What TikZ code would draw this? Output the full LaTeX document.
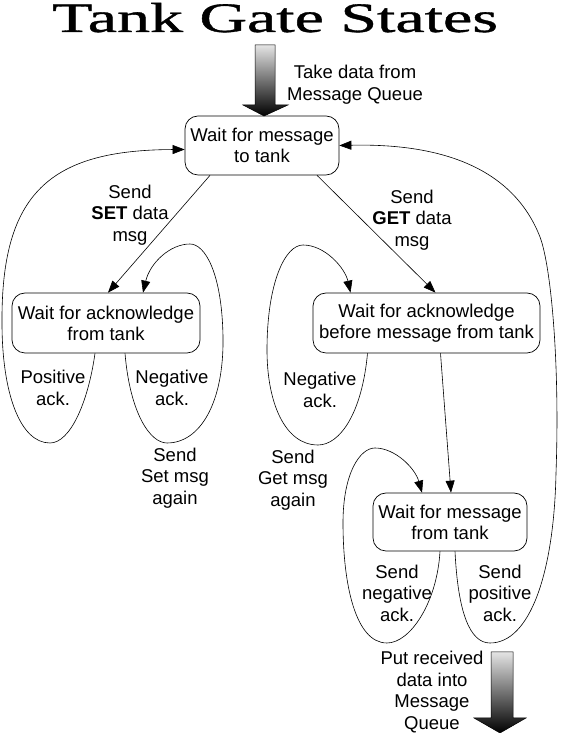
\documentclass[tikz,border=0pt]{standalone}
\usepackage{fontspec}
\setmainfont{Liberation Sans}
\newfontfamily\titlefont[FakeBold=0.8]{Liberation Serif}
\usepackage{tikz}
\usetikzlibrary{arrows.meta}
\definecolor{queuegray}{RGB}{228,228,228}

\begin{document}
\begin{tikzpicture}[
    x=1pt, y=1pt,
    state/.style={rectangle, draw, rounded corners=13pt, inner sep=1pt, align=center, font=\fontsize{18.5}{21}\selectfont, line width=0.7pt},
    lbl/.style={align=center, inner sep=0pt, font=\fontsize{18.5}{21.5}\selectfont},
    arrow/.style={-{Triangle[length=12pt,width=9pt]}, line width=0.6pt},
    queue/.style={top color=queuegray, bottom color=black, draw=black, line width=0.5pt},
]
    \useasboundingbox (0,0) rectangle (562,733);

    \node[anchor=base, xscale=1.57, font=\titlefont\fontsize{42}{42}\selectfont] (title) at (275,701) {Tank Gate States};

    \node[state, minimum width=154pt, minimum height=59pt] (msgwait) at (262,587.5) {Wait for message\\to tank};
    \node[state, minimum width=188pt, minimum height=60pt] (setack) at (106,410) {Wait for acknowledge\\from tank};
    \node[state, minimum width=227pt, minimum height=60pt] (getack) at (426.5,410) {Wait for acknowledge\\before message from tank};
    \node[state, minimum width=154pt, minimum height=58pt] (tankwait) at (450,211) {Wait for message\\from tank};

    \node[lbl] (takedata) at (355,648.5) {Take data from\\Message Queue};
    \node[lbl] (sendset) at (130,518) {Send\\\textbf{SET} data\\msg};
    \node[lbl] (sendget) at (412,513) {Send\\\textbf{GET} data\\msg};
    \node[lbl] (posack) at (53,345) {Positive\\ack.};
    \node[lbl] (negset) at (172,345) {Negative\\ack.};
    \node[lbl] (setagain) at (175,255) {Send\\Set msg\\again};
    \node[lbl] (negget) at (320,343) {Negative\\ack.};
    \node[lbl] (getagain) at (293,253) {Send\\Get msg\\again};
    \node[lbl] (sendneg) at (397,140) {Send\\negative\\ack.};
    \node[lbl] (sendpos) at (500,140) {Send\\positive\\ack.};
    \node[lbl] (putdata) at (432,41) {Put received\\data into\\Message\\Queue};

    \draw[queue] (255,688) -- (275,688) -- (275,628) -- (288,628) -- (264,617) -- (243,628) -- (255,628) -- cycle;
    \draw[queue] (491,81) -- (513,81) -- (513,15) -- (526,15) -- (500,0) -- (474,15) -- (491,15) -- cycle;

    \draw[arrow] ([xshift=-52pt]msgwait.south) -- ([xshift=2pt]setack.north);
    \draw[arrow] ([xshift=55pt]msgwait.south) -- ([xshift=9pt]getack.north);
    \draw[arrow] ([xshift=14pt]getack.south) -- ([xshift=1pt]tankwait.north);

    \draw[arrow] ([xshift=-11pt]setack.south) .. controls (88,330) and (70,290) .. (50,290)
        .. controls (20,290) and (2,340) .. (2,410)
        .. controls (1,540) and (50,583) .. ([yshift=-4pt]msgwait.west);
    \draw[arrow] ([xshift=19pt]setack.south) .. controls (130,320) and (150,290) .. (167,290)
        .. controls (200,290) and (224,330) .. (223,396)
        .. controls (222,460) and (205,489) .. (190,489)
        .. controls (170,489) and (150,470) .. ([xshift=37pt]setack.north);
    \draw[arrow] ([xshift=-59pt]getack.south) .. controls (362,320) and (340,288) .. (318,288)
        .. controls (285,288) and (267,330) .. (267,383)
        .. controls (267,450) and (285,488) .. (303,488)
        .. controls (325,488) and (345,465) .. ([xshift=-76pt]getack.north);
    \draw[arrow] ([xshift=-10pt]tankwait.south) .. controls (437,130) and (410,90) .. (387,90)
        .. controls (355,90) and (343,150) .. (343,210)
        .. controls (343,260) and (360,285) .. (375,285)
        .. controls (395,285) and (415,265) .. ([xshift=-28pt]tankwait.north);
    \draw[arrow] ([xshift=5pt]tankwait.south) .. controls (458,120) and (470,90) .. (490,90)
        .. controls (530,90) and (554,160) .. (556,260)
        .. controls (560,370) and (551,467) .. (540,496)
        .. controls (515,560) and (450,590) .. (msgwait.east);
\end{tikzpicture}
\end{document}
